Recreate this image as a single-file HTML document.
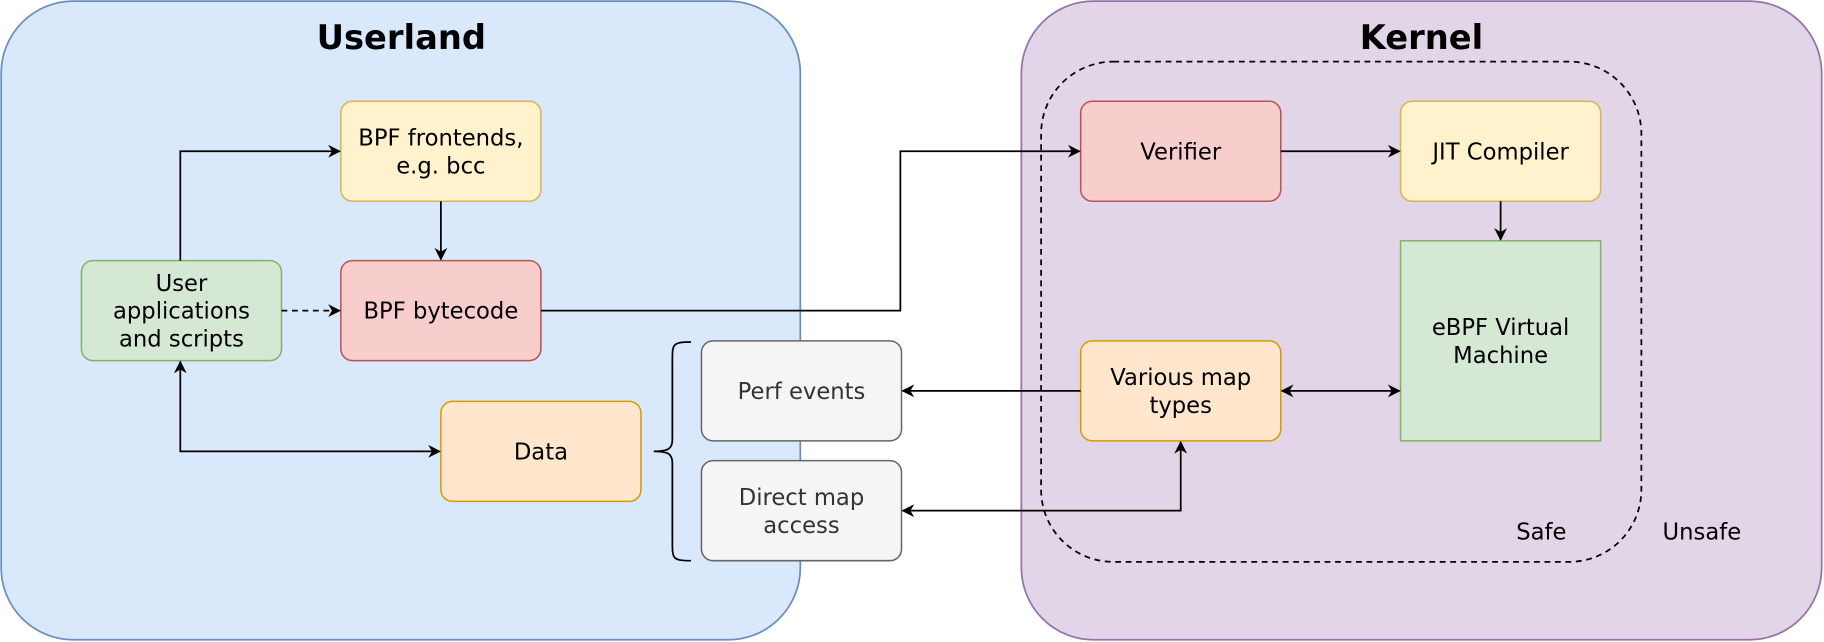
<!DOCTYPE html>
<html><head><meta charset="utf-8"><style>
html,body{margin:0;padding:0;background:#fff;}
svg{display:block;}
text{font-family:"DejaVu Sans","Liberation Sans",sans-serif;}
</style></head><body>
<svg width="1824" height="642" viewBox="0 0 1568 551.9" preserveAspectRatio="none" xmlns="http://www.w3.org/2000/svg">
<defs>
<marker id="a" viewBox="0 0 10 10" refX="9" refY="5" markerWidth="11" markerHeight="11" orient="auto-start-reverse" markerUnits="userSpaceOnUse"><path d="M0,0 L10,5 L0,10 L3,5 z" fill="#000"/></marker>
</defs>
<rect x="1" y="1" width="687" height="549" rx="62" fill="#dae8fc" stroke="#6c8ebf" stroke-width="1.5"/>
<rect x="878" y="1" width="688" height="549" rx="62" fill="#e1d5e7" stroke="#9673a6" stroke-width="1.5"/>
<rect x="895" y="53" width="516" height="430" rx="62" fill="none" stroke="#000" stroke-width="1.5" stroke-dasharray="5,4"/>
<text x="345" y="42" font-size="29" font-weight="bold" text-anchor="middle">Userland</text>
<text x="1222" y="42" font-size="29" font-weight="bold" text-anchor="middle">Kernel</text>
<g stroke-width="1.3" font-size="19.5" text-anchor="middle">
<rect x="293" y="87" width="172" height="86" rx="10" fill="#fff2cc" stroke="#d6b656"/>
<text x="379" y="125">BPF frontends,</text><text x="379" y="149">e.g. bcc</text>
<rect x="293" y="224" width="172" height="86" rx="10" fill="#f8cecc" stroke="#b85450"/>
<text x="379" y="274">BPF bytecode</text>
<rect x="70" y="224" width="172" height="86" rx="10" fill="#d5e8d4" stroke="#82b366"/>
<text x="156" y="250">User</text><text x="156" y="274">applications</text><text x="156" y="298">and scripts</text>
<rect x="379" y="345" width="172" height="86" rx="10" fill="#ffe6cc" stroke="#d79b00"/>
<text x="465" y="395">Data</text>
<rect x="603" y="293" width="172" height="86" rx="10" fill="#f5f5f5" stroke="#666"/>
<text x="689" y="343" fill="#333">Perf events</text>
<rect x="603" y="396" width="172" height="86" rx="10" fill="#f5f5f5" stroke="#666"/>
<text x="689" y="434" fill="#333">Direct map</text><text x="689" y="458" fill="#333">access</text>
<rect x="929" y="87" width="172" height="86" rx="10" fill="#f8cecc" stroke="#b85450"/>
<text x="1015" y="137">Verifier</text>
<rect x="1204" y="87" width="172" height="86" rx="10" fill="#fff2cc" stroke="#d6b656"/>
<text x="1290" y="137">JIT Compiler</text>
<rect x="1204" y="207" width="172" height="172" fill="#d5e8d4" stroke="#82b366"/>
<text x="1290" y="288">eBPF Virtual</text><text x="1290" y="312">Machine</text>
<rect x="929" y="293" width="172" height="86" rx="10" fill="#ffe6cc" stroke="#d79b00"/>
<text x="1015" y="331">Various map</text><text x="1015" y="355">types</text>
<text x="1325" y="464">Safe</text>
<text x="1463" y="464">Unsafe</text>
</g>
<g fill="none" stroke="#000" stroke-width="1.5">
<path d="M155,224 V130 H292" marker-end="url(#a)"/>
<path d="M379,173 V223" marker-end="url(#a)"/>
<path d="M242,267 H292" stroke-dasharray="5,4" marker-end="url(#a)"/>
<path d="M155,311 V388 H378" marker-start="url(#a)" marker-end="url(#a)"/>
<path d="M465,267 H774 V130 H928" marker-end="url(#a)"/>
<path d="M1101,130 H1203" marker-end="url(#a)"/>
<path d="M1290,173 V206" marker-end="url(#a)"/>
<path d="M1102,336 H1203" marker-start="url(#a)" marker-end="url(#a)"/>
<path d="M929,336 H776" marker-end="url(#a)"/>
<path d="M1015,380 V439 H776" marker-start="url(#a)" marker-end="url(#a)"/>
<path d="M594,294 C578,294 578,296 578,310 V378 C578,386 574,388 562,388 C574,388 578,390 578,398 V466 C578,480 578,482 594,482"/>
</g>
</svg>
</body></html>
